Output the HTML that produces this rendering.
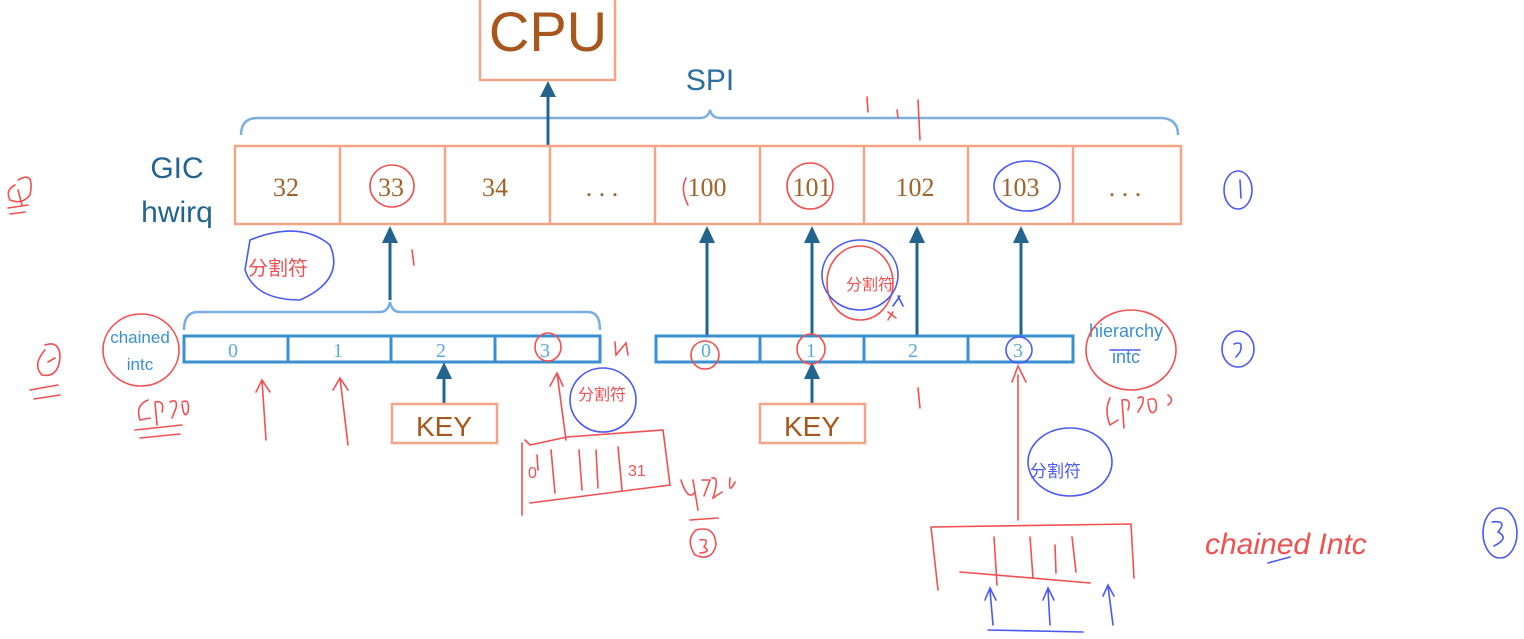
<!DOCTYPE html>
<html><head><meta charset="utf-8"><style>
html,body{margin:0;padding:0;background:#fff;width:1524px;height:639px;overflow:hidden}
svg{display:block}
.num{font-family:"Liberation Serif",serif;font-size:26px;fill:#a0632a}
.sm{font-family:"Liberation Serif",serif;font-size:20px;fill:#5aa8e0}
.sans{font-family:"Liberation Sans",sans-serif}
.hw{font-family:"Liberation Sans","Noto Sans CJK SC",sans-serif}
</style></head><body>
<svg width="1524" height="639" viewBox="0 0 1524 639" xmlns="http://www.w3.org/2000/svg">
<!-- CPU -->
<rect x="480" y="-2" width="135" height="82" fill="none" stroke="#f4a585" stroke-width="2.5"/>
<text x="548" y="51" text-anchor="middle" class="sans" font-size="56" fill="#a8561c">CPU</text>
<text x="710" y="90" text-anchor="middle" class="sans" font-size="30" fill="#2d6ea0">SPI</text>
<!-- top brace -->
<path d="M241 135 Q241 118 258 118 L700 118 Q708 118 710 110 Q712 118 720 118 L1160 118 Q1178 118 1178 135" fill="none" stroke="#7aaee0" stroke-width="2.5"/>
<line x1="548" y1="146" x2="548" y2="95" stroke="#23648f" stroke-width="3"/>
<polygon points="548,81 540,97 556,97" fill="#23648f"/>
<!-- GIC label -->
<text x="177" y="178" text-anchor="middle" class="sans" font-size="30" fill="#23648f">GIC</text>
<text x="177" y="222" text-anchor="middle" class="sans" font-size="30" fill="#23648f">hwirq</text>
<!-- GIC row -->
<g fill="none" stroke="#f4a585" stroke-width="2.5">
<rect x="235" y="146" width="946" height="78"/>
<line x1="340" y1="146" x2="340" y2="224"/><line x1="445" y1="146" x2="445" y2="224"/>
<line x1="550" y1="146" x2="550" y2="224"/><line x1="655" y1="146" x2="655" y2="224"/>
<line x1="760" y1="146" x2="760" y2="224"/><line x1="864" y1="146" x2="864" y2="224"/>
<line x1="968" y1="146" x2="968" y2="224"/><line x1="1073" y1="146" x2="1073" y2="224"/>
</g>
<g class="num" text-anchor="middle">
<text x="286" y="196">32</text><text x="391" y="196">33</text><text x="495" y="196">34</text>
<text x="602" y="196">. . .</text><text x="707" y="196">100</text><text x="812" y="196">101</text>
<text x="915" y="196">102</text><text x="1020" y="196">103</text><text x="1125" y="196">. . .</text>
</g>
<g stroke="#23648f" stroke-width="3">
<line x1="390" y1="300" x2="390" y2="238"/><line x1="707" y1="335" x2="707" y2="238"/>
<line x1="812" y1="335" x2="812" y2="238"/><line x1="917" y1="335" x2="917" y2="238"/>
<line x1="1021" y1="335" x2="1021" y2="238"/>
<line x1="444" y1="403" x2="444" y2="376"/><line x1="812" y1="403" x2="812" y2="376"/>
</g>
<g fill="#23648f">
<polygon points="390,226 382,243 398,243"/><polygon points="707,226 699,243 715,243"/>
<polygon points="812,226 804,243 820,243"/><polygon points="917,226 909,243 925,243"/>
<polygon points="1021,226 1013,243 1029,243"/>
<polygon points="444,362 436,379 452,379"/><polygon points="812,362 804,379 820,379"/>
</g>
<path d="M184 330 Q184 312 198 312 L380 312 Q388 312 390 302 Q392 312 400 312 L588 312 Q600 312 600 330" fill="none" stroke="#7aaee0" stroke-width="2.5"/>
<g fill="none" stroke="#3a8fd0" stroke-width="3">
<rect x="184" y="336" width="416" height="26"/>
<line x1="288" y1="336" x2="288" y2="362"/><line x1="391" y1="336" x2="391" y2="362"/><line x1="495" y1="336" x2="495" y2="362"/>
<rect x="656" y="336" width="417" height="26"/>
<line x1="760" y1="336" x2="760" y2="362"/><line x1="864" y1="336" x2="864" y2="362"/><line x1="968" y1="336" x2="968" y2="362"/>
</g>
<g class="sm" text-anchor="middle">
<text x="233" y="357">0</text><text x="338" y="357">1</text><text x="441" y="357">2</text><text x="545" y="357">3</text>
<text x="706" y="357">0</text><text x="811" y="357">1</text><text x="913" y="357">2</text><text x="1018" y="357">3</text>
</g>
<text x="140" y="343" text-anchor="middle" class="sans" font-size="17" fill="#3a8fd0">chained</text>
<text x="140" y="370" text-anchor="middle" class="sans" font-size="17" fill="#3a8fd0">intc</text>
<text x="1126" y="337" text-anchor="middle" class="sans" font-size="18" fill="#3a8fd0">hierarchy</text>
<text x="1126" y="363" text-anchor="middle" class="sans" font-size="18" fill="#3a8fd0">intc</text>
<rect x="392" y="404" width="105" height="39" fill="none" stroke="#f4a585" stroke-width="2.5"/>
<text x="444" y="436" text-anchor="middle" class="sans" font-size="28" fill="#a8561c">KEY</text>
<rect x="760" y="404" width="105" height="39" fill="none" stroke="#f4a585" stroke-width="2.5"/>
<text x="812" y="436" text-anchor="middle" class="sans" font-size="28" fill="#a8561c">KEY</text>

<g fill="none" stroke="#f05050" stroke-width="1.6" stroke-linecap="round">
<ellipse cx="392" cy="186" rx="22" ry="21"/>
<path d="M686 178 Q680 190 688 205"/>
<ellipse cx="810" cy="186" rx="23" ry="23"/>
<ellipse cx="141" cy="350" rx="38" ry="36"/>
<ellipse cx="1131" cy="350" rx="45" ry="40"/>
<ellipse cx="548" cy="347" rx="13" ry="14"/>
<ellipse cx="705" cy="355" rx="14" ry="14"/>
<ellipse cx="811" cy="349" rx="14" ry="15"/>
<ellipse cx="860" cy="283" rx="33" ry="37"/>
<path d="M18 180 Q35 170 30 195 Q22 205 10 200 Q5 190 15 185 M18 190 L22 205 M8 208 L28 205 M10 214 L25 212"/>
<path d="M45 345 Q60 340 60 358 Q58 378 42 375 Q32 365 45 350 M48 362 L55 358 M30 390 L58 385 M34 399 L60 395"/>
<path d="M148 400 Q135 405 140 420 L150 418 M155 402 L157 425 M155 402 Q165 400 162 412 M170 402 Q178 398 176 408 L172 418 M182 402 Q190 398 188 412 Q184 420 182 404 M135 430 L182 425 M140 438 L180 434"/>
<path d="M262 380 L266 440 M256 392 L262 380 L270 392 M340 378 L348 445 M333 390 L340 378 L348 390 M557 373 L566 440 M550 386 L557 373 L563 386"/>
<path d="M412 250 L414 265 M867 97 L868 112 M897 110 L898 118 M918 100 L920 140 M918 388 L920 408"/>
<path d="M615 342 L616 355 L626 343 L628 355"/>
<path d="M525 440 L530 445 L567 437 L663 430 L670 485 L530 503 M522 443 L522 515 M537 455 L538 470 M551 450 L555 493 M579 450 L582 490 M596 450 L598 488 M618 447 L622 490"/>
<path d="M681 480 Q688 502 695 492 M693 480 L698 510 M702 480 L710 480 L704 496 M712 478 Q720 476 713 498 L722 492 M730 478 Q728 496 735 482 M690 520 L718 518"/>
<path d="M696 530 Q715 525 716 545 Q712 562 695 555 Q685 540 696 530 M700 540 Q710 538 704 547 Q712 552 700 553"/>
<path d="M1018 375 L1018 520 M1012 382 L1018 366 L1026 382"/>
<path d="M931 527 L1131 524 L1134 578 M931 527 L938 590 M960 572 L1090 583 M994 537 L997 585 M1030 537 L1033 578 M1055 545 L1056 573 M1072 537 L1076 572"/>
<path d="M888 312 L896 318 M893 312 L888 320"/>
<path d="M1110 398 Q1104 410 1110 425 L1118 420 M1122 400 L1124 428 M1122 400 Q1132 398 1128 410 M1138 398 Q1146 394 1142 405 L1138 412 M1148 400 Q1158 395 1156 410 Q1150 418 1148 402 M1168 395 Q1175 400 1168 405"/>
</g>
<text x="1205" y="554" class="hw" font-size="30" fill="#f05050" font-style="italic">chained Intc</text>
<text x="846" y="290" class="hw" font-size="16" fill="#f05050">分割符</text>
<text x="248" y="275" class="hw" font-size="20" fill="#f05050">分割符</text>
<text x="578" y="400" class="hw" font-size="16" fill="#f05050">分割符</text>
<text x="528" y="478" class="hw" font-size="16" fill="#f05050">0</text>
<text x="628" y="476" class="hw" font-size="16" fill="#f05050">31</text>
<g fill="none" stroke="#4a5af0" stroke-width="1.6" stroke-linecap="round">
<path d="M250 240 Q300 220 330 245 Q345 280 300 300 Q255 300 245 270 Z"/>
<ellipse cx="1027" cy="186" rx="33" ry="25"/>
<ellipse cx="1019" cy="350" rx="13" ry="13"/>
<ellipse cx="603" cy="400" rx="33" ry="32"/>
<ellipse cx="860" cy="275" rx="38" ry="35"/>
<ellipse cx="1070" cy="462" rx="42" ry="34"/>
<ellipse cx="1238" cy="190" rx="14" ry="19"/><path d="M1240 180 L1241 198"/>
<ellipse cx="1238" cy="349" rx="16" ry="18"/><path d="M1234 344 Q1244 340 1240 352 L1236 357"/>
<ellipse cx="1500" cy="533" rx="17" ry="25"/><path d="M1492 522 Q1508 520 1498 532 Q1510 538 1494 546"/>
<path d="M1268 563 L1290 557 M988 630 L1083 632 M1110 350 L1140 350"/>
<path d="M993 625 L990 590 M985 600 L990 588 L996 600 M1050 625 L1048 590 M1043 600 L1048 588 L1054 600 M1113 625 L1108 586 M1103 596 L1108 585 L1114 596"/>
<path d="M893 306 L900 296 M898 296 L903 306"/>
</g>
<text x="1030" y="477" class="hw" font-size="17" fill="#4a5af0">分割符</text>
</svg>
</body></html>
